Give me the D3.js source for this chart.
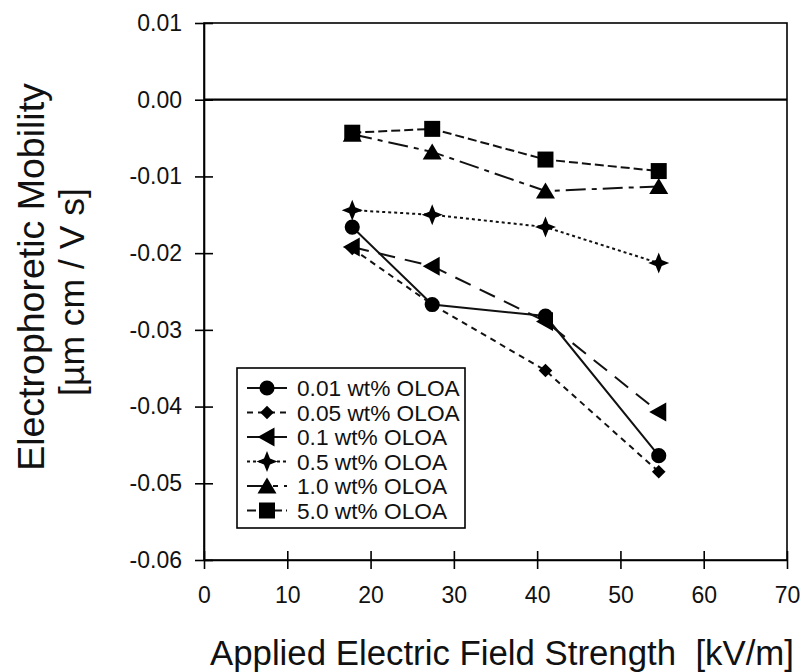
<!DOCTYPE html>
<html>
<head>
<meta charset="utf-8">
<script src="https://cdn.jsdelivr.net/npm/d3@7"></script>
<style>
  body { margin: 0; background: #fff; }
  svg { font-family: "Liberation Sans", Arial, sans-serif; }
</style>
</head>
<body>
<svg id="chart" width="804" height="672"></svg>
<script>
// Data
const fieldStrength = [17.8, 27.4, 41.0, 54.6];
const seriesLabels = [
  "0.01 wt% OLOA",
  "0.05 wt% OLOA",
  "0.1 wt% OLOA",
  "0.5 wt% OLOA",
  "1.0 wt% OLOA",
  "5.0 wt% OLOA",
];
const mob001 = [-0.0166, -0.0267, -0.0282, -0.0464];
const mob005 = [-0.0194, -0.0267, -0.0353, -0.0485];
const mob01 = [-0.0192, -0.0217, -0.0289, -0.0407];
const mob05 = [-0.0144, -0.0150, -0.0166, -0.0213];
const mob10 = [-0.0045, -0.0068, -0.0119, -0.0113];
const mob50 = [-0.0043, -0.0038, -0.0078, -0.0093];
const seriesValues = [mob001, mob005, mob01, mob05, mob10, mob50];

const xTicks = [0, 10, 20, 30, 40, 50, 60, 70];
const yTicks = [0.01, 0.0, -0.01, -0.02, -0.03, -0.04, -0.05, -0.06];

// Styles for each series
const seriesDash = ["none", "6,5", "17,10", "3,3", "20,6,5,6", "9,4"];
const seriesSymbol = ["circle", "diamond", "leftTriangle", "star4", "triangle", "square"];

// Chart Dimensions
const margin = { left: 204, right: 17, top: 23, bottom: 112 };
const width = 804, height = 672;

const svg = d3.select("#chart");

// Create Scales
const x = d3.scaleLinear().domain([0, 70]).range([margin.left, width - margin.right]);
const y = d3.scaleLinear().domain([-0.06, 0.01]).range([height - margin.bottom, margin.top]);

// Symbol paths
const symbolPath = (type) => {
  switch (type) {
    case "circle":
      return d3.symbol(d3.symbolCircle, 180)();
    case "square":
      return "M-8,-8H8V8H-8Z";
    case "triangle":
      return "M0,-8.5L9.5,7.5L-9.5,7.5Z";
    case "leftTriangle":
      return "M-9.5,0L7.5,-9.5L7.5,9.5Z";
    case "diamond":
      return "M0,-6.8L6.8,0L0,6.8L-6.8,0Z";
    case "star4": {
      const r = 10.5, w = 3;
      return `M0,${-r}L${w},${-w}L${r},0L${w},${w}L0,${r}L${-w},${w}L${-r},0L${-w},${-w}Z`;
    }
  }
};

// Frame
svg.append("rect")
  .attr("x", x(0)).attr("y", y(0.01))
  .attr("width", x(70) - x(0)).attr("height", y(-0.06) - y(0.01))
  .attr("fill", "none").attr("stroke", "#000").attr("stroke-width", 1.6);

// Zero line
svg.append("line")
  .attr("x1", x(0)).attr("x2", x(70))
  .attr("y1", y(0)).attr("y2", y(0))
  .attr("stroke", "#000").attr("stroke-width", 2.2);

// Axes
const xAxis = svg.append("g")
  .attr("transform", `translate(0,${y(-0.06)})`)
  .call(d3.axisBottom(x).tickValues(xTicks).tickSize(9).tickPadding(18).tickSizeOuter(0));
xAxis.selectAll(".tick line").attr("y1", -9).attr("stroke-width", 1.6);
xAxis.select(".domain").attr("stroke-width", 1.6);
xAxis.selectAll("text").attr("font-size", 23).attr("fill", "#111");

const yAxis = svg.append("g")
  .attr("transform", `translate(${x(0)},0)`)
  .call(d3.axisLeft(y).tickValues(yTicks).tickSize(9).tickPadding(13).tickSizeOuter(0)
    .tickFormat(d3.format(".2f")));
yAxis.selectAll(".tick line").attr("x1", 9).attr("stroke-width", 1.6);
yAxis.select(".domain").attr("stroke-width", 1.6);
yAxis.selectAll("text").attr("font-size", 23).attr("fill", "#111")
  .text((d) => d3.format(".2f")(d).replace("−", "-"));

// Axis titles
svg.append("text")
  .attr("x", 502).attr("y", 665)
  .attr("text-anchor", "middle").attr("font-size", 34.8).attr("fill", "#111")
  .style("white-space", "pre")
  .text("Applied Electric Field Strength  [kV/m]");

svg.append("text")
  .attr("transform", "translate(44,277) rotate(-90)")
  .attr("text-anchor", "middle").attr("font-size", 37.5).attr("fill", "#111")
  .text("Electrophoretic Mobility");
svg.append("text")
  .attr("transform", "translate(84,292) rotate(-90)")
  .attr("text-anchor", "middle").attr("font-size", 35.5).attr("fill", "#111")
  .text("[\u00b5m cm / V s]");

// Lines
const line = d3.line().x((d) => x(d[0])).y((d) => y(d[1]));
seriesValues.forEach((vals, i) => {
  const pts = fieldStrength.map((f, j) => [f, vals[j]]);
  svg.append("path")
    .attr("d", line(pts))
    .attr("fill", "none").attr("stroke", "#111").attr("stroke-width", 2)
    .attr("stroke-dasharray", seriesDash[i]);
});

// Markers
seriesValues.forEach((vals, i) => {
  svg.selectAll(null)
    .data(fieldStrength.map((f, j) => [f, vals[j]]))
    .enter()
    .append("path")
    .attr("d", symbolPath(seriesSymbol[i]))
    .attr("transform", (d) => `translate(${x(d[0])},${y(d[1])})`)
    .attr("fill", "#000");
});

// Legend
const legend = svg.append("g").attr("transform", "translate(237,368)");
legend.append("rect")
  .attr("width", 228).attr("height", 160)
  .attr("fill", "#fff").attr("stroke", "#000").attr("stroke-width", 1.6);
seriesLabels.forEach((lab, i) => {
  const cy = 20 + i * 24.5;
  legend.append("line")
    .attr("x1", 10).attr("x2", 50).attr("y1", cy).attr("y2", cy)
    .attr("stroke", "#111").attr("stroke-width", 2)
    .attr("stroke-dasharray", seriesDash[i]);
  legend.append("path")
    .attr("d", symbolPath(seriesSymbol[i]))
    .attr("transform", `translate(30,${cy})`)
    .attr("fill", "#000");
  legend.append("text")
    .attr("x", 60).attr("y", cy + 8)
    .attr("font-size", 22.7).attr("fill", "#111")
    .text(lab);
});
</script>
</body>
</html>
